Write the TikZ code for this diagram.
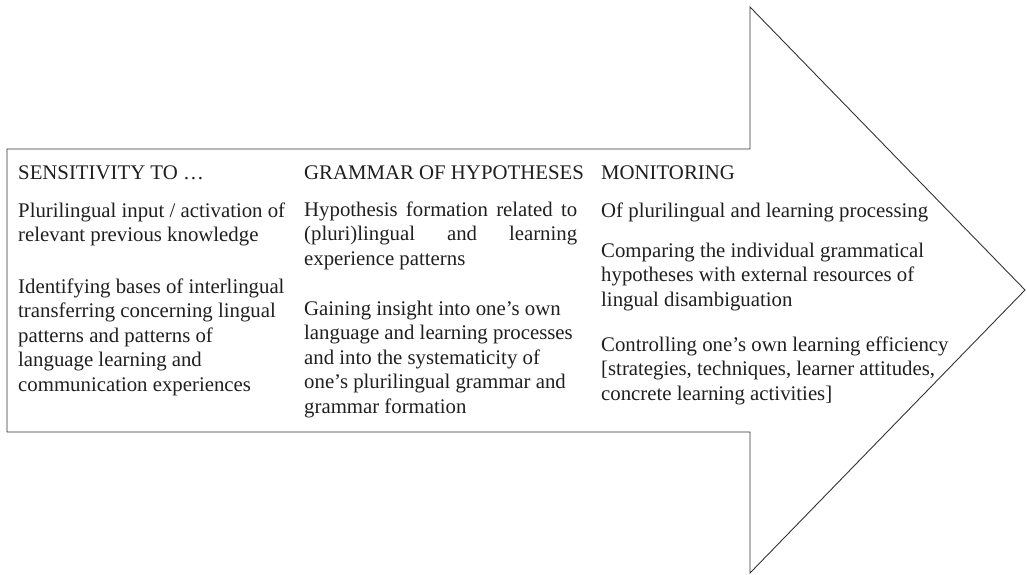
\documentclass[tikz,border=0pt]{standalone}
\usepackage{fontspec}
\setmainfont{Liberation Serif}
\begin{document}
\begin{tikzpicture}[x=1pt,y=1pt,
  outline/.style={draw=black!80,line width=0.9pt,line join=miter},
  txt/.style={anchor=base west,inner sep=0pt,text=black!88,
    font=\fontsize{20.8}{24.6}\selectfont}]
\useasboundingbox (0,0) rectangle (1027,574);

% arrow outline
\draw[outline] (7,425) -- (750,425) -- (750,567) -- (1025,284)
  -- (750,1) -- (750,142) -- (7,142) -- cycle;

% column 1
\node[txt] (h1) at (18,395) {SENSITIVITY TO …};
\node[txt] (a1) at (18,357) {\parbox[t]{285pt}{Plurilingual input / activation of\\
  relevant previous knowledge}};
\node[txt] (a2) at (18,281) {\parbox[t]{285pt}{Identifying bases of interlingual\\
  transferring concerning lingual\\ patterns and patterns of\\
  language learning and\\ communication experiences}};

% column 2
\node[txt] (h2) at (304,395) {GRAMMAR OF HYPOTHESES};
\node[txt] (b1) at (304,358) {\parbox[t]{273pt}{%
  \makebox[273pt][s]{Hypothesis formation related to}\\
  \makebox[273pt][s]{(pluri)lingual and learning}\\
  experience patterns}};
\node[txt] (b2) at (304,259) {\parbox[t]{285pt}{Gaining insight into one’s own\\
  language and learning processes\\ and into the systematicity of\\
  one’s plurilingual grammar and\\ grammar formation}};

% column 3
\node[txt] (h3) at (601,395) {MONITORING};
\node[txt] (c1) at (601,357) {Of plurilingual and learning processing};
\node[txt] (c2) at (601,317) {\parbox[t]{360pt}{Comparing the individual grammatical\\
  hypotheses with external resources of\\ lingual disambiguation}};
\node[txt] (c3) at (601,223) {\parbox[t]{360pt}{Controlling one’s own learning efficiency\\
  {[}strategies, techniques, learner attitudes,\\ concrete learning activities{]}}};
\end{tikzpicture}
\end{document}
